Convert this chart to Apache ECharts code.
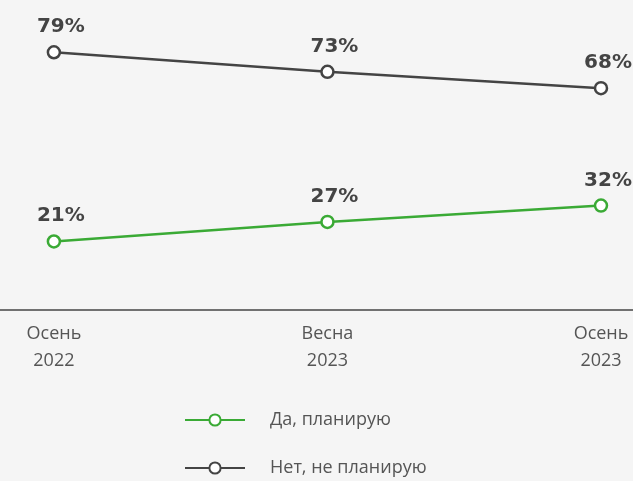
<!DOCTYPE html>
<html>
<head>
<meta charset="utf-8">
<script src="https://cdn.jsdelivr.net/npm/echarts@6/dist/echarts.min.js"></script>
<style>
  html, body { margin: 0; padding: 0; background: #f5f5f5; }
  #chart { width: 633px; height: 481px; }
</style>
</head>
<body>
<div id="chart"></div>
<script>
// данные
const categories = ["Осень\n2022", "Весна\n2023", "Осень\n2023"];
const yesValues = [21, 27, 32];
const noValues = [79, 73, 68];
const seriesNames = ["Да, планирую", "Нет, не планирую"];

const GREEN = "#3aaa35";
const DARK = "#444444";
const FONT = "'Open Sans', sans-serif";
const BOLD_FONT = "'DejaVu Sans', sans-serif";

const chart = echarts.init(document.getElementById("chart"));

function makeSeries(name, values, color) {
  return {
    name: name,
    type: "line",
    data: values.map((v, i) => [i, v]),
    symbol: "circle",
    symbolSize: 12,
    lineStyle: { width: 2.5, color: color },
    itemStyle: { color: "#ffffff", borderColor: color, borderWidth: 2.5 },
    label: {
      show: true,
      position: "top",
      distance: 8,
      offset: [7, 0],
      formatter: p => p.value[1] + "%",
      fontFamily: BOLD_FONT,
      fontWeight: "bold",
      fontSize: 20,
      color: DARK
    },
    emphasis: { disabled: true }
  };
}

chart.setOption({
  backgroundColor: "#f5f5f5",
  animation: false,
  grid: { left: 0, right: 0, top: 49, bottom: 171 },
  xAxis: {
    type: "value",
    min: -0.197,
    max: 2.117,
    splitLine: { show: false },
    axisTick: { show: false },
    axisLine: { show: true, lineStyle: { color: DARK, width: 1.5 } },
    axisLabel: {
      customValues: [0, 1, 2],
      formatter: v => categories[Math.round(v)],
      margin: 10,
      fontFamily: FONT,
      fontSize: 18,
      lineHeight: 27,
      color: "#555555"
    }
  },
  yAxis: {
    type: "value",
    min: 0,
    max: 80,
    show: false
  },
  legend: {
    orient: "vertical",
    left: 179,
    top: 406,
    height: 75,
    itemWidth: 60,
    itemHeight: 14,
    itemGap: 30,
    selectedMode: false,
    data: seriesNames,
    textStyle: {
      fontFamily: FONT,
      fontSize: 18,
      lineHeight: 18,
      color: "#555555",
      padding: [0, 0, 0, 20]
    }
  },
  series: [
    makeSeries(seriesNames[0], yesValues, GREEN),
    makeSeries(seriesNames[1], noValues, DARK)
  ]
});
</script>
</body>
</html>
